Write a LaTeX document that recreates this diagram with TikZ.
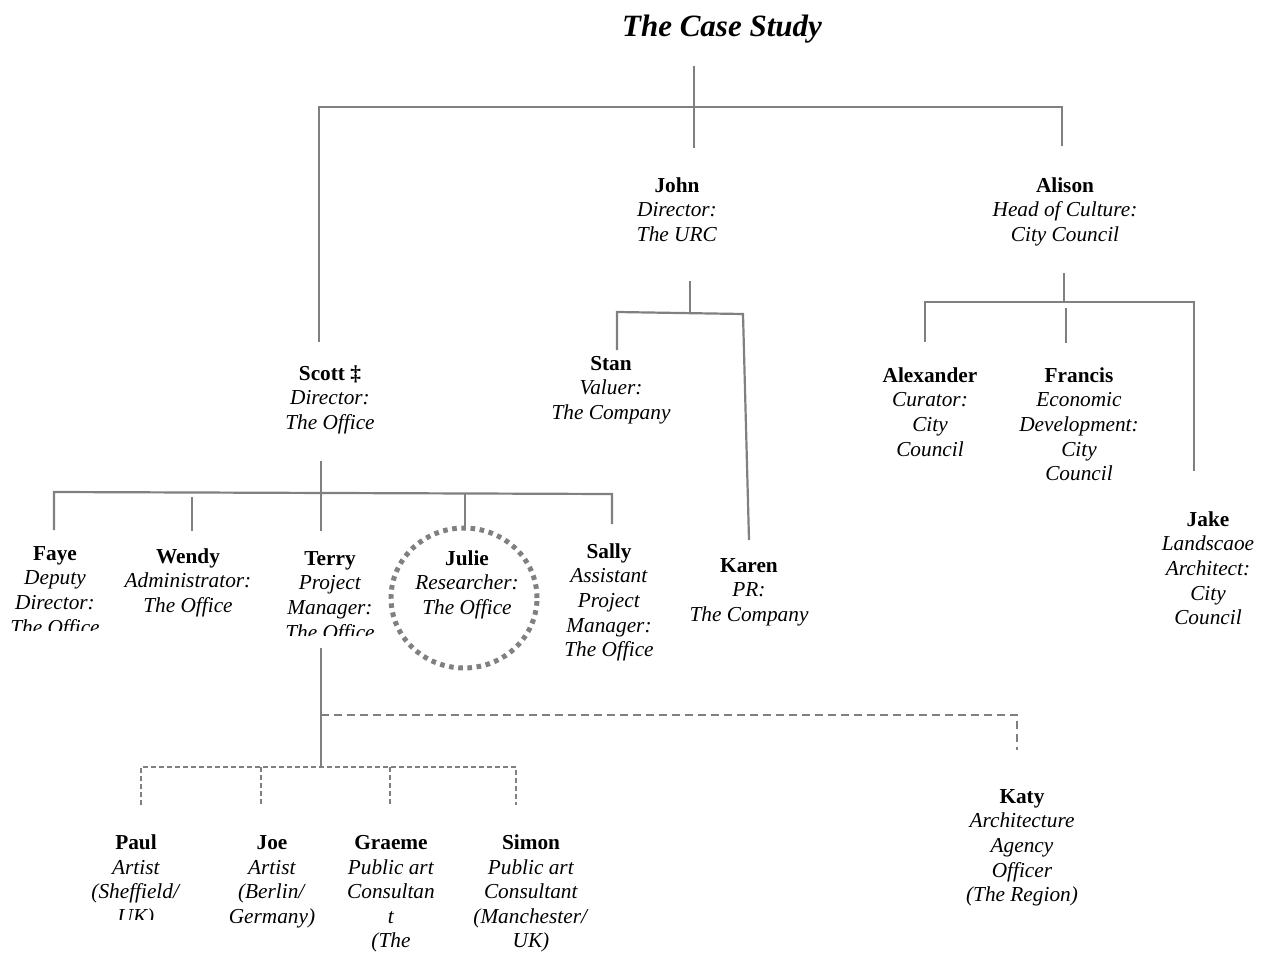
\documentclass[tikz,border=0pt]{standalone}
\usepackage{fontspec}
\setmainfont{Liberation Serif}
\definecolor{linegray}{RGB}{128,128,128}
\newcommand{\orgfont}{\fontsize{21.3}{24.6}\selectfont}
\newcommand{\who}[1]{\strut\textbf{#1}}
\newcommand{\rl}[1]{\textit{#1}}
\tikzset{
  person/.style={anchor=north, inner sep=0pt, align=center, font=\orgfont},
  headline/.style={anchor=base, inner sep=0pt, font=\fontsize{31}{36}\selectfont\bfseries\itshape},
  link/.style={draw=linegray, line width=2.2pt},
  dlink/.style={draw=linegray, line width=2pt, dash pattern=on 8pt off 5pt},
  fdlink/.style={draw=linegray, line width=1.8pt, dash pattern=on 5pt off 3pt},
  ring/.style={draw=linegray, line width=5pt, dash pattern=on 4.6pt off 4.6pt},
}
\begin{document}
\begin{tikzpicture}[x=1pt, y=-1pt]
\useasboundingbox (0,0) rectangle (1270,956);

% title
\node[headline] (title) at (722,36) {The Case Study};

% top level
\node[person] (john) at (677,174.8) {\who{John}\\\rl{Director:}\\\rl{The URC}};
\node[person] (alison) at (1065,174.8) {\who{Alison}\\\rl{Head of Culture:}\\\rl{City Council}};
\node[person] (scott) at (330,362.8) {\who{Scott ‡}\\\rl{Director:}\\\rl{The Office}};

% The URC
\node[person] (stan) at (611,352.8) {\who{Stan}\\\rl{Valuer:}\\\rl{The Company}};
\node[person] (karen) at (749,554.8) {\who{Karen}\\\rl{PR:}\\\rl{The Company}};

% City Council
\node[person] (alexander) at (930,364.8) {\who{Alexander}\\\rl{Curator:}\\\rl{City}\\\rl{Council}};
\node[person] (francis) at (1079,364.8) {\who{Francis}\\\rl{Economic}\\\rl{Development:}\\\rl{City}\\\rl{Council}};
\node[person] (jake) at (1208,508.8) {\who{Jake}\\\rl{Landscaoe}\\\rl{Architect:}\\\rl{City}\\\rl{Council}};

% The Office
\begin{scope}
  \clip (0,0) rectangle (125,630);
  \node[person] (faye) at (55,542.8) {\who{Faye}\\\rl{Deputy}\\\rl{Director:}\\\rl{The Office}};
\end{scope}
\node[person] (wendy) at (188,545.8) {\who{Wendy}\\\rl{Administrator:}\\\rl{The Office}};
\begin{scope}
  \clip (260,0) rectangle (400,635);
  \node[person] (terry) at (330,547.8) {\who{Terry}\\\rl{Project}\\\rl{Manager:}\\\rl{The Office}};
\end{scope}
\node[person] (julie) at (467,547.8) {\who{Julie}\\\rl{Researcher:}\\\rl{The Office}};
\node[person] (sally) at (609,540.8) {\who{Sally}\\\rl{Assistant}\\\rl{Project}\\\rl{Manager:}\\\rl{The Office}};

% outside partners
\node[person] (katy) at (1022,785.8) {\who{Katy}\\\rl{Architecture}\\\rl{Agency}\\\rl{Officer}\\\rl{(The Region)}};
\begin{scope}
  \clip (60,0) rectangle (205,919);
  \node[person] (paul) at (136,832) {\who{Paul}\\\rl{Artist}\\\rl{(Sheffield/}\\\rl{UK)}};
\end{scope}
\node[person] (joe) at (272,832) {\who{Joe}\\\rl{Artist}\\\rl{(Berlin/}\\\rl{Germany)}};
\node[person] (graeme) at (391,832) {\who{Graeme}\\\rl{Public art}\\\rl{Consultan}\\\rl{t}\\\rl{(The}};
\node[person] (simon) at (531,832) {\who{Simon}\\\rl{Public art}\\\rl{Consultant}\\\rl{(Manchester/}\\\rl{UK)}};

% ring around Julie
\draw[ring] (464,598) ellipse [x radius=73pt, y radius=70pt];

% junction points
\coordinate (rootTop) at (694,66);
\coordinate (johnIn) at (694,148);
\coordinate (barL) at (319,107);
\coordinate (barR) at (1062,107);
\coordinate (scottIn) at (319,342);
\coordinate (alisonIn) at (1062,146);

\coordinate (johnOut) at (690,281);
\coordinate (johnBar) at (690,312);
\coordinate (stanBar) at (617,312);
\coordinate (stanIn) at (617,350);
\coordinate (karenBar) at (743,314);
\coordinate (karenIn) at (749,540);

\coordinate (alisonOut) at (1064,273);
\coordinate (alisonBar) at (1064,302);
\coordinate (alexBar) at (925,302);
\coordinate (alexIn) at (925,342);
\coordinate (jakeBar) at (1194,302);
\coordinate (jakeIn) at (1194,471);
\coordinate (francisTop) at (1066,308);
\coordinate (francisIn) at (1066,343);

\coordinate (scottOut) at (321,461);
\coordinate (terryIn) at (321,531);
\coordinate (fayeBar) at (54,492);
\coordinate (fayeIn) at (54,530);
\coordinate (wendyTop) at (192,497);
\coordinate (wendyIn) at (192,531);
\coordinate (julieBar) at (465,493);
\coordinate (julieIn) at (465,528);
\coordinate (sallyBar) at (612,494);
\coordinate (sallyIn) at (612,524);

\coordinate (terryOut) at (321,648);
\coordinate (teamBar) at (321,767);
\coordinate (katyBar) at (321,715);
\coordinate (katyCorner) at (1017,715);
\coordinate (katyIn) at (1017,750);
\coordinate (paulBar) at (141,767);
\coordinate (paulIn) at (141,805);
\coordinate (joeBar) at (261,767);
\coordinate (joeIn) at (261,805);
\coordinate (graemeBar) at (390,767);
\coordinate (graemeIn) at (390,805);
\coordinate (simonBar) at (516,767);
\coordinate (simonIn) at (516,805);

% connectors
\draw[link] (rootTop) -- (johnIn);
\draw[link] (scottIn) -- (barL) -- (barR) -- (alisonIn);

\draw[link] (johnOut) -- (johnBar);
\draw[link] (stanIn) -- (stanBar) -- (karenBar) -- (karenIn);

\draw[link] (alisonOut) -- (alisonBar);
\draw[link] (alexIn) -- (alexBar) -- (jakeBar) -- (jakeIn);
\draw[link] (francisTop) -- (francisIn);

\draw[link] (scottOut) -- (terryIn);
\draw[link] (fayeIn) -- (fayeBar) -- (sallyBar) -- (sallyIn);
\draw[link] (wendyTop) -- (wendyIn);
\draw[link] (julieBar) -- (julieIn);

\draw[link] (terryOut) -- (teamBar);
\draw[dlink] (katyBar) -- (katyCorner) -- (katyIn);
\draw[fdlink] (paulIn) -- (paulBar) -- (simonBar) -- (simonIn);
\draw[fdlink] (joeBar) -- (joeIn);
\draw[fdlink] (graemeBar) -- (graemeIn);
\end{tikzpicture}
\end{document}
